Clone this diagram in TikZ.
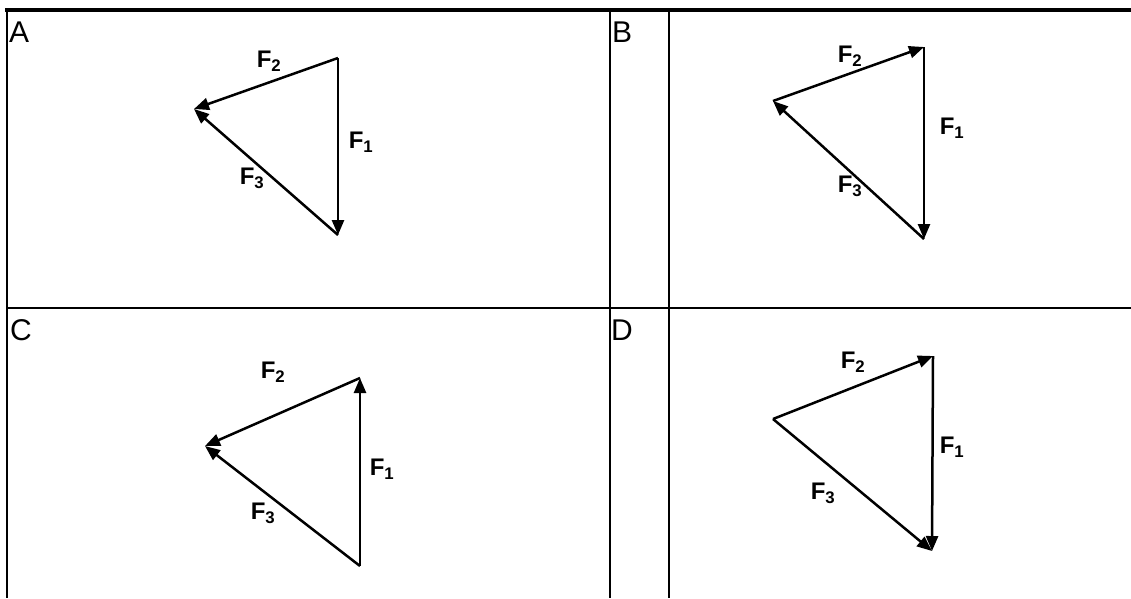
\documentclass[tikz,border=0pt]{standalone}
\usepackage{fontspec}
\setmainfont{Liberation Sans}
\usetikzlibrary{arrows.meta}

\begin{document}
\begin{tikzpicture}[x=1pt, y=-1pt,
  rule/.style={line width=2.2pt},
  toprule/.style={line width=4pt},
  vec/.style={-{Triangle[length=15pt,width=12pt]}, line width=2.5pt},
  flabel/.style={font=\fontsize{24}{26}\selectfont\bfseries, inner sep=0pt},
  panel/.style={font=\fontsize{30}{32}\selectfont, anchor=base west, inner sep=0pt},
]

\useasboundingbox (0,0) rectangle (1131,598);

% frame of the four panels
\coordinate (tl) at (5,9.5);
\coordinate (tr) at (1131,9.5);
\coordinate (lt) at (7,9.5);
\coordinate (lb) at (7,598);
\coordinate (ml) at (7,308);
\coordinate (mr) at (1131,308);
\coordinate (vat) at (610,9.5);
\coordinate (vab) at (610,598);
\coordinate (vbt) at (669,9.5);
\coordinate (vbb) at (669,598);

\draw[toprule] (tl) -- (tr);
\draw[rule] (lt) -- (lb);
\draw[rule] (ml) -- (mr);
\draw[rule] (vat) -- (vab);
\draw[rule] (vbt) -- (vbb);

\node[panel] (pA) at (9,42) {A};
\node[panel] (pB) at (612,42) {B};
\node[panel] (pC) at (10,340) {C};
\node[panel] (pD) at (611,340) {D};

% panel A
\coordinate (a1) at (338,58);
\coordinate (a2) at (194,109);
\coordinate (a3) at (338,235);
\draw[vec] (a1) -- (a2);
\draw[vec] (a1) -- (a3);
\draw[vec] (a3) -- (a2);
\node[flabel] (aF2) at (269,61) {F\textsubscript{2}};
\node[flabel] (aF1) at (361,142) {F\textsubscript{1}};
\node[flabel] (aF3) at (252,178) {F\textsubscript{3}};

% panel B
\coordinate (b1) at (924,47);
\coordinate (b2) at (773,101);
\coordinate (b3) at (924,239);
\draw[vec] (b2) -- (b1);
\draw[vec] (b1) -- (b3);
\draw[vec] (b3) -- (b2);
\node[flabel] (bF2) at (850,56) {F\textsubscript{2}};
\node[flabel] (bF1) at (952,128) {F\textsubscript{1}};
\node[flabel] (bF3) at (850,186) {F\textsubscript{3}};

% panel C
\coordinate (c1) at (360,378);
\coordinate (c2) at (205,446);
\coordinate (c3) at (360,566);
\draw[vec] (c3) -- (c1);
\draw[vec] (c1) -- (c2);
\draw[vec] (c3) -- (c2);
\node[flabel] (cF2) at (273,372) {F\textsubscript{2}};
\node[flabel] (cF1) at (382,469) {F\textsubscript{1}};
\node[flabel] (cF3) at (263,513) {F\textsubscript{3}};

% panel D
\coordinate (d1) at (933,356);
\coordinate (d2) at (773,419);
\coordinate (d3) at (932,551);
\draw[vec] (d2) -- (d1);
\draw[vec] (d1) -- (d3);
\draw[vec] (d2) -- (d3);
\node[flabel] (dF2) at (853,362) {F\textsubscript{2}};
\node[flabel] (dF1) at (952,447) {F\textsubscript{1}};
\node[flabel] (dF3) at (823,493) {F\textsubscript{3}};

\end{tikzpicture}
\end{document}
